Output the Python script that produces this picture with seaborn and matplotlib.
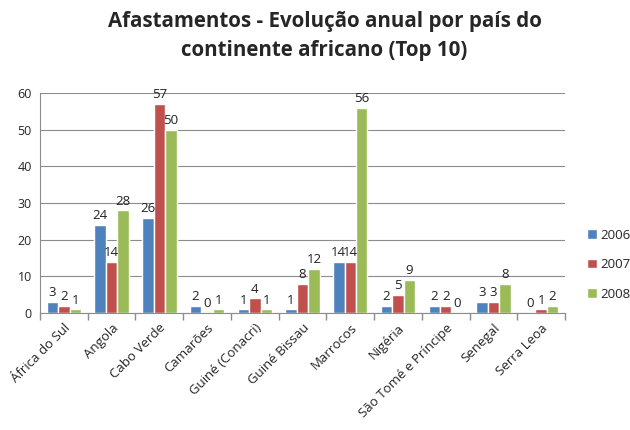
import matplotlib.pyplot as plt
import seaborn as sns
import pandas as pd
import numpy as np

# DADOS
paises = ['África do Sul', 'Angola', 'Cabo Verde', 'Camarões', 'Guiné (Conacri)',
          'Guiné Bissau', 'Marrocos', 'Nigéria', 'São Tomé e Príncipe', 'Senegal', 'Serra Leoa']
anos = ['2006', '2007', '2008']
v2006 = [3, 24, 26, 2, 1, 1, 14, 2, 2, 3, 0]
v2007 = [2, 14, 57, 0, 4, 8, 14, 5, 2, 3, 1]
v2008 = [1, 28, 50, 1, 1, 12, 56, 9, 0, 8, 2]
cores = ['#4F81BD', '#C0504D', '#9BBB59']

df = pd.DataFrame({'País': paises, '2006': v2006, '2007': v2007, '2008': v2008})
df = df.melt(id_vars='País', var_name='Ano', value_name='Afastamentos')

sns.set_theme(style="white")
plt.rcParams['font.family'] = ['Open Sans', 'DejaVu Sans']

fig = plt.figure(figsize=(6.3, 4.3), dpi=100)
ax = fig.add_axes([40/630, 1 - 313/430, 525/630, 220/430])

sns.barplot(data=df, x='País', y='Afastamentos', hue='Ano', hue_order=anos,
            palette=cores, saturation=1, width=0.72, ax=ax)

for cont in ax.containers:
    ax.bar_label(cont, fontsize=9.5, padding=2, color='#222222')

ax.set_ylim(0, 60)
ax.set_xlim(-0.5, len(paises) - 0.5)
ax.set_yticks(range(0, 61, 10))
ax.yaxis.grid(True, color='#8C8C8C', linewidth=0.8)
ax.set_axisbelow(True)
ax.set_xlabel('')
ax.set_ylabel('')

for s in ['top', 'right']:
    ax.spines[s].set_visible(False)
for s in ['left', 'bottom']:
    ax.spines[s].set_color('#8C8C8C')
    ax.spines[s].set_linewidth(0.8)

# ticks entre categorias, estilo Excel
ax.set_xticks(np.arange(-0.5, len(paises), 1), minor=True)
ax.tick_params(axis='x', which='minor', length=5, color='#8C8C8C', bottom=True)
ax.tick_params(axis='x', which='major', length=0, pad=6)
ax.tick_params(axis='y', length=0, labelsize=9, pad=6)
ax.set_xticks(range(len(paises)))
ax.set_xticklabels(paises, rotation=45, ha='right', rotation_mode='anchor', fontsize=9.5)

leg = ax.legend(loc='center left', bbox_to_anchor=(1.02, 0.22), frameon=False,
                fontsize=9.5, handlelength=0.7, handleheight=0.7, labelspacing=1.25,
                handletextpad=0.3)

fig.suptitle('Afastamentos - Evolução anual por país do\ncontinente africano (Top 10)',
             x=0.515, y=0.975, fontsize=14.8, fontweight='bold', linespacing=1.5)

fig.savefig('out.png', dpi=100)
